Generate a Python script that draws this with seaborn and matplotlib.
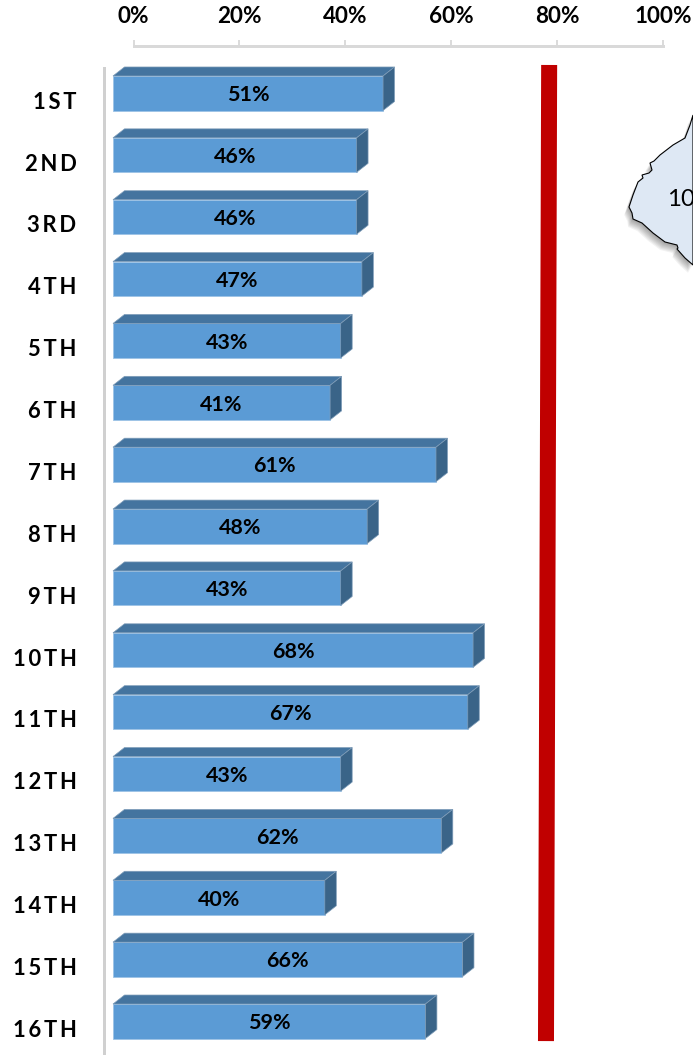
import pandas as pd
import seaborn as sns
import matplotlib.pyplot as plt
from matplotlib.patches import Polygon
from matplotlib.transforms import ScaledTranslation, blended_transform_factory

W, H = 693, 1055
DPI = 100

grades = ["1ST", "2ND", "3RD", "4TH", "5TH", "6TH", "7TH", "8TH",
          "9TH", "10TH", "11TH", "12TH", "13TH", "14TH", "15TH", "16TH"]
percent = [51, 46, 46, 47, 43, 41, 61, 48, 43, 68, 67, 43, 62, 40, 66, 59]
top_ticks = [0, 20, 40, 60, 80, 100]
target_x = [78.5, 77.9]
target_y = [-0.457, 15.32]

# map shape cut off at the right edge
map_x = [693, 690, 685, 673, 660, 654, 650, 652, 649, 642, 643, 638, 633, 629, 632, 633, 642, 653, 665, 677, 678, 677, 685, 693]
map_y = [115, 125, 138, 145, 155, 161, 163, 170, 173, 175, 178, 182, 195, 207, 213, 219, 223, 233, 242, 245, 248, 249, 258, 265]


def px_axes(left, top, right, bottom):
    return fig.add_axes([left / W, 1 - bottom / H, (right - left) / W, (bottom - top) / H])


def px(n):
    return n * 72 / DPI


sns.set_theme(style="white")
plt.rcParams['font.family'] = ['Lato', 'DejaVu Sans']

fig = plt.figure(figsize=(W / DPI, H / DPI), dpi=DPI)

# map behind everything else
ax_map = px_axes(0, 0, W, H)
ax_map.set_xlim(0, W)
ax_map.set_ylim(H, 0)
ax_map.axis('off')
map_xy = list(zip(map_x, map_y))
for i in range(1, 9):
    shadow = [(x - i * 0.6, y + i * 1.0) for x, y in map_xy]
    ax_map.add_patch(Polygon(shadow, closed=True, fc='black', ec='none', alpha=0.05))
ax_map.add_patch(Polygon(map_xy, closed=True, fc='#DEE8F4', ec='black', lw=0.8))
ax_map.text(667, 200, "10", fontsize=px(24), va='center', ha='left', color='black', clip_on=True)

# bars
df = pd.DataFrame({'grade': grades, 'percent': percent})
ax = px_axes(113, 68, 642.5, 1055)
ax.patch.set_alpha(0)
sns.barplot(data=df, x='percent', y='grade', orient='h', color='#5B9BD5', saturation=1,
            width=0.558, edgecolor='#9DC3E6', linewidth=0.6, ax=ax)
ax.set_xlim(0, 100)
ax.set_ylim(15.545, -0.408)
ax.set_xlabel("")
ax.set_ylabel("")
ax.xaxis.set_visible(False)
for side in ['top', 'right', 'bottom']:
    ax.spines[side].set_visible(False)
ax.spines['left'].set_position(('outward', px(9.5)))
ax.spines['left'].set_color('#D0D0D0')
ax.spines['left'].set_linewidth(px(3))

# fake 3d faces on each bar
dx = 11.5 / 5.295
dy = 9 / 61.87
for bar in ax.patches:
    x1 = bar.get_x() + bar.get_width()
    y0 = min(bar.get_y(), bar.get_y() + bar.get_height())
    y1 = max(bar.get_y(), bar.get_y() + bar.get_height())
    ax.add_patch(Polygon([(0, y0), (dx, y0 - dy), (x1 + dx, y0 - dy), (x1, y0)],
                         closed=True, fc='#44749F', ec='#7F9DB9', lw=0.5, clip_on=False))
    ax.add_patch(Polygon([(x1, y0), (x1 + dx, y0 - dy), (x1 + dx, y1 - dy), (x1, y1)],
                         closed=True, fc='#3A6488', ec='#7F9DB9', lw=0.5, clip_on=False))

bar_texts = ax.bar_label(ax.containers[0], labels=[f"{v}%" for v in percent], label_type='center',
                         fontsize=px(21.5), fontweight='bold', color='black')
for t in bar_texts:
    t.xyann = (0, -px(2))

ax.tick_params(axis='y', length=0, pad=px(27))
ax.set_yticks(range(len(grades)))
ax.set_yticklabels(["\u2009".join(g) for g in grades], fontsize=px(22), fontweight='bold',
                   color='black', ha='right')
shift = ScaledTranslation(0, -7 / DPI, fig.dpi_scale_trans)
for label in ax.get_yticklabels():
    label.set_transform(label.get_transform() + shift)

# percent scale on top, set off to the right of the bars
ax_top = px_axes(133.5, 40, 663, 46)
ax_top.patch.set_alpha(0)
ax_top.set_xlim(0, 100)
ax_top.set_yticks([])
ax_top.xaxis.tick_top()
ax_top.set_xticks(top_ticks)
ax_top.set_xticklabels([f"{t}%" for t in top_ticks], fontsize=px(22.5), fontweight='bold', color='black')
ax_top.tick_params(axis='x', direction='in', length=px(6), width=px(1.5), color='#D0D0D0', pad=px(13))
for side in ['top', 'right', 'left']:
    ax_top.spines[side].set_visible(False)
ax_top.spines['bottom'].set_color('#D9D9D9')
ax_top.spines['bottom'].set_linewidth(px(3))

# red target line
trans = blended_transform_factory(ax_top.transData, ax.transData)
ax.plot(target_x, target_y, color='#C00000', lw=px(16), solid_capstyle='butt',
        transform=trans, clip_on=False, zorder=5)

fig.savefig("out.png", dpi=DPI)
